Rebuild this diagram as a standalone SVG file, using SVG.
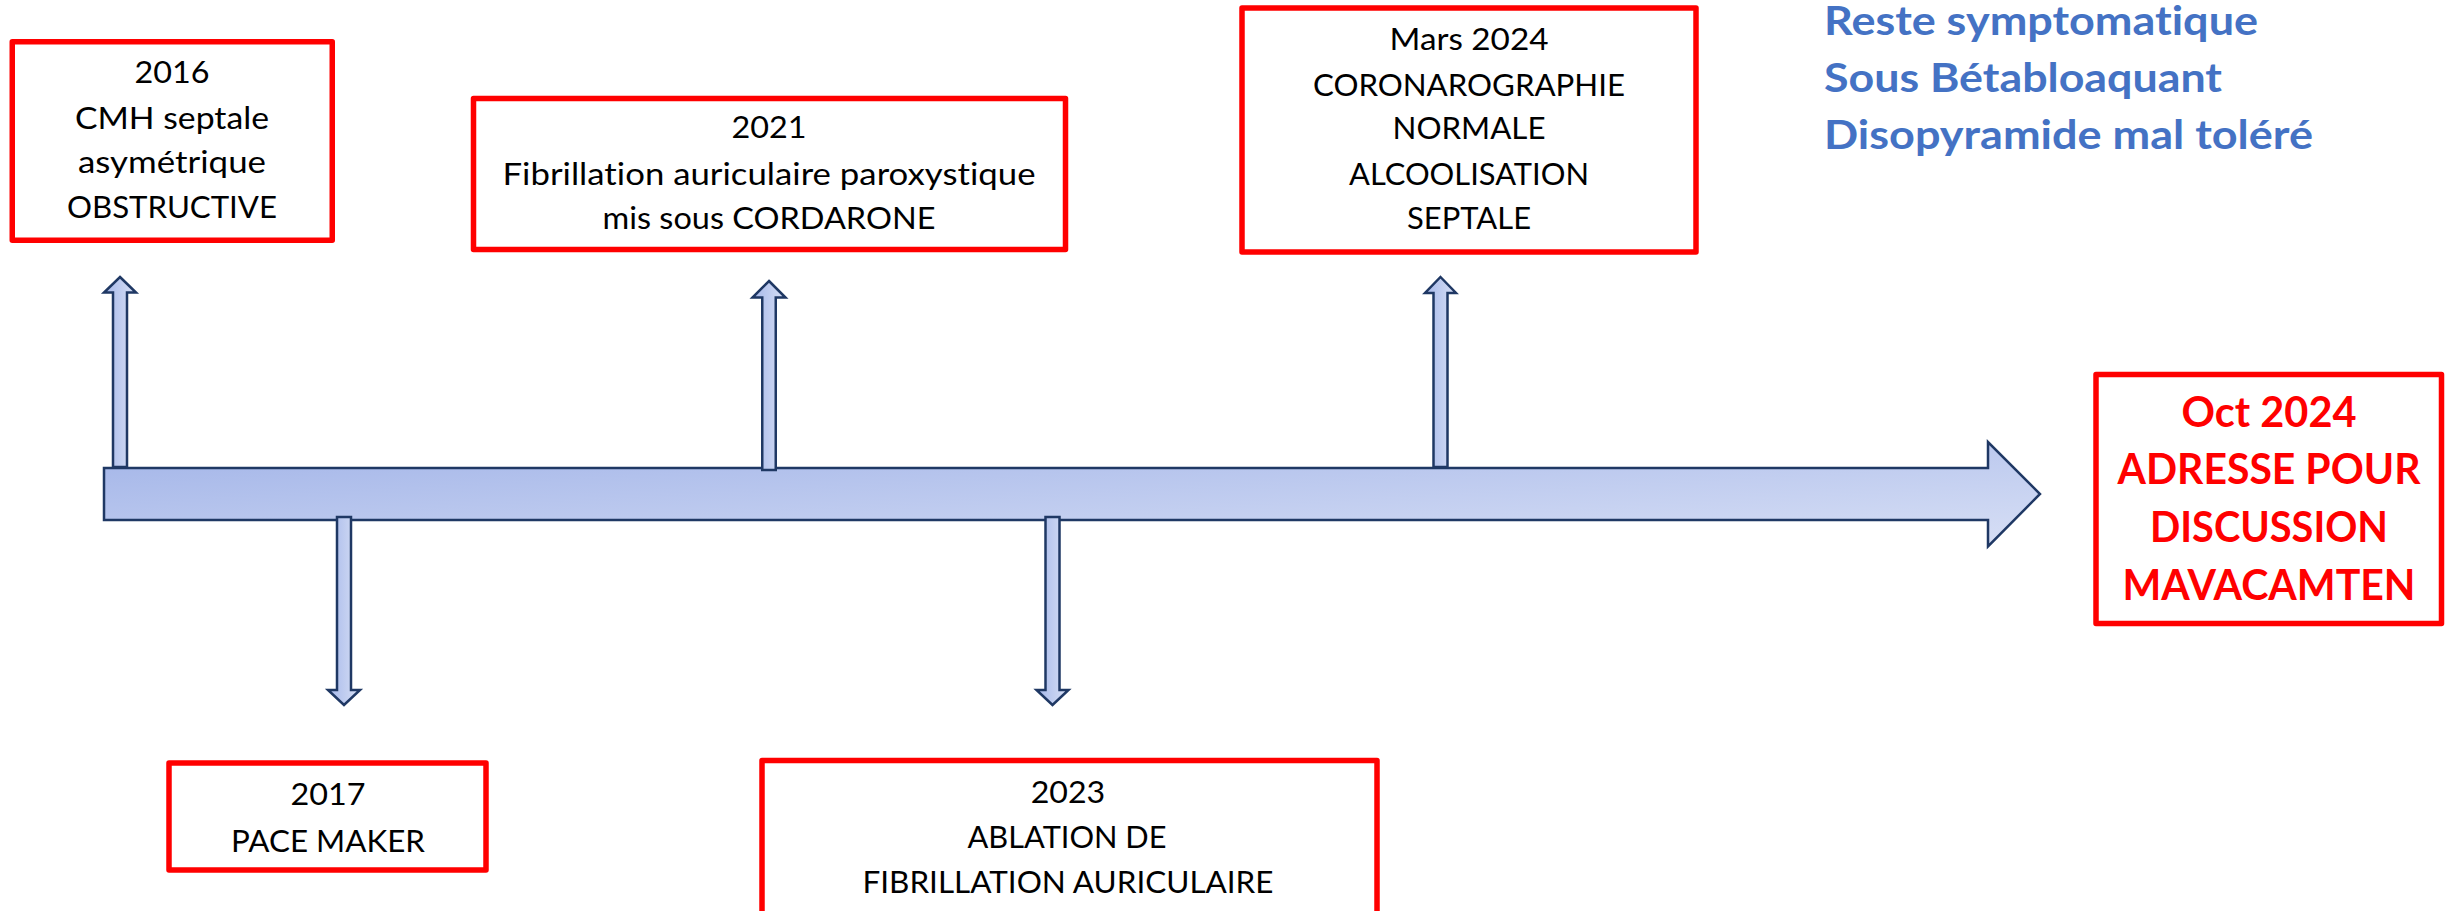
<svg xmlns="http://www.w3.org/2000/svg" width="2461" height="911" viewBox="0 0 2461 911">
<defs>
<linearGradient id="gMain" x1="0" y1="0" x2="1" y2="1">
<stop offset="0" stop-color="#A2B4E8"/>
<stop offset="1" stop-color="#D7DFF5"/>
</linearGradient>
<linearGradient id="gSmall" x1="0" y1="0" x2="1" y2="0">
<stop offset="0" stop-color="#A6B8EA"/>
<stop offset="1" stop-color="#D8E0F5"/>
</linearGradient>
<style>
.box{fill:#FFFFFF;stroke:#FF0000;stroke-width:5.5;stroke-linejoin:round}
.arr{stroke:#1F3864;stroke-width:2.5;stroke-linejoin:miter}
.main{fill:url(#gMain)}
.small{fill:url(#gSmall)}
text{font-variant-ligatures:none;font-feature-settings:"liga" 0,"dlig" 0}
.t{font-family:Lato,"Open Sans","Liberation Sans",sans-serif;font-size:31px;fill:#000000;text-anchor:middle}
.red{font-family:Lato,"Open Sans","Liberation Sans",sans-serif;font-size:42px;font-weight:bold;fill:#FF0000;text-anchor:middle}
.blue{font-family:Lato,"Open Sans","Liberation Sans",sans-serif;font-size:40px;font-weight:bold;fill:#4472C4}
</style>
</defs>
<rect width="2461" height="911" fill="#FFFFFF"/>

<g id="connectors">
<polygon id="timeline" class="arr main" points="104,468 1988,468 1988,442 2040,494 1988,546.5 1988,520 104,520"/>
<polygon id="arrow-2016" class="arr small" points="120,277 136,292.5 127,292.5 127,467 113,467 113,292.5 104,292.5"/>
<polygon id="arrow-2021" class="arr small" points="769,281 785.5,297.5 775.75,297.5 775.75,470 762.25,470 762.25,297.5 752.5,297.5"/>
<polygon id="arrow-2024" class="arr small" points="1440.5,277 1456,293 1447.5,293 1447.5,467 1433.5,467 1433.5,293 1425,293"/>
<polygon id="arrow-2017" class="arr small" points="337,517 351,517 351,690 360,690 344,705 328,690 337,690"/>
<polygon id="arrow-2023" class="arr small" points="1045.5,517 1059.5,517 1059.5,690 1068.5,690 1052.5,705 1036.5,690 1045.5,690"/>
</g>

<g id="node-2016">
<rect class="box" x="12.25" y="41.75" width="320" height="198.5"/>
<text class="t" x="172" y="83" textLength="75" lengthAdjust="spacingAndGlyphs">2016</text>
<text class="t" x="172" y="129" textLength="194" lengthAdjust="spacingAndGlyphs">CMH septale</text>
<text class="t" x="172" y="173" textLength="188" lengthAdjust="spacingAndGlyphs">asymétrique</text>
<text class="t" x="172" y="218" textLength="210" lengthAdjust="spacingAndGlyphs">OBSTRUCTIVE</text>
</g>

<g id="node-2021">
<rect class="box" x="473.5" y="98.5" width="592" height="151"/>
<text class="t" x="769" y="138" textLength="75" lengthAdjust="spacingAndGlyphs">2021</text>
<text class="t" x="769" y="185" textLength="533" lengthAdjust="spacingAndGlyphs">Fibrillation auriculaire paroxystique</text>
<text class="t" x="769" y="229" textLength="333" lengthAdjust="spacingAndGlyphs">mis sous CORDARONE</text>
</g>

<g id="node-2024">
<rect class="box" x="1242" y="8" width="454" height="244"/>
<text class="t" x="1469" y="50" textLength="159" lengthAdjust="spacingAndGlyphs">Mars 2024</text>
<text class="t" x="1469" y="96" textLength="312" lengthAdjust="spacingAndGlyphs">CORONAROGRAPHIE</text>
<text class="t" x="1469" y="139" textLength="153" lengthAdjust="spacingAndGlyphs">NORMALE</text>
<text class="t" x="1469" y="185" textLength="240" lengthAdjust="spacingAndGlyphs">ALCOOLISATION</text>
<text class="t" x="1469" y="229" textLength="124" lengthAdjust="spacingAndGlyphs">SEPTALE</text>
</g>

<g id="note">
<text class="blue" x="1824" y="35" textLength="434" lengthAdjust="spacingAndGlyphs">Reste symptomatique</text>
<text class="blue" x="1824" y="92" textLength="398" lengthAdjust="spacingAndGlyphs">Sous Bétabloaquant</text>
<text class="blue" x="1824" y="148.5" textLength="489" lengthAdjust="spacingAndGlyphs">Disopyramide mal toléré</text>
</g>

<g id="node-oct2024">
<rect class="box" x="2096" y="374.5" width="345.5" height="249"/>
<text class="red" x="2269" y="427" textLength="175" lengthAdjust="spacingAndGlyphs">Oct 2024</text>
<text class="red" x="2269" y="484" textLength="303" lengthAdjust="spacingAndGlyphs">ADRESSE POUR</text>
<text class="red" x="2269" y="542" textLength="238" lengthAdjust="spacingAndGlyphs">DISCUSSION</text>
<text class="red" x="2269" y="600" textLength="293" lengthAdjust="spacingAndGlyphs">MAVACAMTEN</text>
</g>

<g id="node-2017">
<rect class="box" x="169" y="763" width="317" height="107"/>
<text class="t" x="328" y="805" textLength="75" lengthAdjust="spacingAndGlyphs">2017</text>
<text class="t" x="328" y="851.5" textLength="194" lengthAdjust="spacingAndGlyphs">PACE MAKER</text>
</g>

<g id="node-2023">
<rect class="box" x="762" y="760.5" width="615" height="160"/>
<text class="t" x="1068" y="803" textLength="74.5" lengthAdjust="spacingAndGlyphs">2023</text>
<text class="t" x="1067" y="848" textLength="199" lengthAdjust="spacingAndGlyphs">ABLATION DE</text>
<text class="t" x="1068" y="892.5" textLength="411" lengthAdjust="spacingAndGlyphs">FIBRILLATION AURICULAIRE</text>
</g>
</svg>
